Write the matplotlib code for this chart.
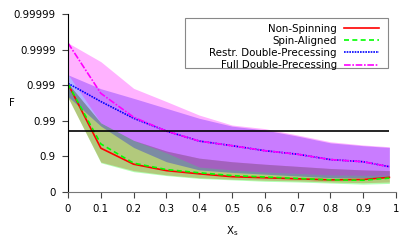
import numpy as np
import matplotlib
matplotlib.use('Agg')
import matplotlib.pyplot as plt
from matplotlib.patches import Rectangle

# spin magnitude
chi_s = [0, 0.1, 0.2, 0.3, 0.4, 0.5, 0.6, 0.7, 0.8, 0.9, 0.98]

# median fitting factors
non_spinning = [0.999067, 0.94112, 0.8340, 0.7488, 0.6910, 0.6285, 0.6019, 0.5734, 0.5429, 0.5533, 0.6110]
spin_aligned = [0.999067, 0.95533, 0.8451, 0.7656, 0.7116, 0.6533, 0.6198, 0.5831, 0.5429, 0.5323, 0.5926]
restr_double = [0.999109, 0.997116, 0.991489, 0.98050, 0.96285, 0.94988, 0.93082, 0.91290, 0.8770, 0.8587, 0.8050]
full_double = [0.999934, 0.998302, 0.992057, 0.98050, 0.96285, 0.94988, 0.93082, 0.91290, 0.8770, 0.8587, 0.8050]

# spread of fitting factors (lower / upper)
non_spinning_lo = [0.997761, 0.8555, 0.7488, 0.6689, 0.6019, 0.5635, 0.5323, 0.5102, 0.4752, 0.4505, 0.4752]
non_spinning_hi = [0.999109, 0.98852, 0.96452, 0.92921, 0.8878, 0.8587, 0.8340, 0.8095, 0.7812, 0.7601, 0.7488]
spin_aligned_lo = [0.997761, 0.8486, 0.7308, 0.6533, 0.5831, 0.5429, 0.4988, 0.4752, 0.4377, 0.3974, 0.4246]
spin_aligned_hi = [0.999109, 0.98852, 0.96452, 0.92921, 0.8878, 0.8587, 0.8340, 0.8095, 0.7812, 0.7601, 0.7488]
restr_double_lo = [0.997911, 0.98587, 0.94377, 0.8587, 0.7601, 0.7182, 0.6838, 0.6452, 0.6019, 0.6019, 0.6198]
restr_double_hi = [0.999487, 0.998741, 0.997656, 0.995533, 0.991489, 0.98587, 0.98180, 0.97308, 0.95831, 0.94988, 0.94377]
full_double_lo = [0.999499, 0.98852, 0.96452, 0.92057, 0.8005, 0.7601, 0.7246, 0.6980, 0.6689, 0.6612, 0.6612]
full_double_hi = [0.999935, 0.999781, 0.998770, 0.997116, 0.993082, 0.98682, 0.98340, 0.97488, 0.96110, 0.95214, 0.94630]

threshold = 0.98
yticks = [0, 0.9, 0.99, 0.999, 0.9999, 0.99999]
ytick_labels = ['0', '0.9', '0.99', '0.999', '0.9999', '0.99999']
xticks = [0, 0.1, 0.2, 0.3, 0.4, 0.5, 0.6, 0.7, 0.8, 0.9, 1]
xtick_labels = ['0', '0.1', '0.2', '0.3', '0.4', '0.5', '0.6', '0.7', '0.8', '0.9', '1']


def nines(f):
    f = np.asarray(f, dtype=float)
    return -np.log10(np.clip(1 - f, 1e-12, None))


def unnines(v):
    return 1 - 10 ** (-np.asarray(v, dtype=float))


plt.rcParams['font.family'] = 'DejaVu Sans'
plt.rcParams['font.size'] = 7.4

fig = plt.figure(figsize=(4.15, 2.49), dpi=100)
ax = fig.add_axes([0.164, 0.229, 0.79, 0.715])
ax.set_yscale('function', functions=(nines, unnines))

a = 0.3
ax.fill_between(chi_s, non_spinning_lo, non_spinning_hi, color='#ff0000', alpha=a, lw=0)
ax.fill_between(chi_s, spin_aligned_lo, spin_aligned_hi, color='#00ff00', alpha=a, lw=0)
ax.fill_between(chi_s, restr_double_lo, restr_double_hi, color='#0000ff', alpha=a, lw=0)
ax.fill_between(chi_s, full_double_lo, full_double_hi, color='#ff00ff', alpha=a, lw=0)

ax.plot(chi_s, non_spinning, color='#ff0000', lw=1.2, label='Non-Spinning')
ax.plot(chi_s, spin_aligned, color='#00ff00', lw=1.2, ls=(0, (3, 2)), label='Spin-Aligned')
ax.plot(chi_s, restr_double, color='#0000ff', lw=1.2, ls=(0, (1, 0.6)), label='Restr. Double-Precessing')
ax.plot(chi_s, full_double, color='#ff00ff', lw=1.2, ls=(0, (4, 1, 1, 1)), label='Full Double-Precessing')

ax.hlines(threshold, 0, chi_s[-1], color='black', lw=1.2)

ax.set_xlim(0, 1)
ax.set_ylim(0, 0.99999)
ax.set_xticks(xticks)
ax.set_xticklabels(xtick_labels)
ax.set_yticks(yticks)
ax.set_yticklabels(ytick_labels)
ax.minorticks_off()
ax.tick_params(direction='out', length=4, width=0.8, color='#444444', pad=5)

for s in ['top', 'right']:
    ax.spines[s].set_visible(False)
ax.spines['left'].set_color('black')
ax.spines['bottom'].set_color('#777777')

ax.set_xlabel(r'$\mathregular{X_s}$', labelpad=7)
ax.set_ylabel('F', rotation=0, va='center')
ax.yaxis.set_label_coords(-0.17, 0.5)

# gnuplot-like key: wide box, samples on the right
box = Rectangle((185 / 415, 1 - 68 / 249), 203 / 415, 50 / 249, transform=fig.transFigure,
                facecolor='white', edgecolor='#888888', lw=0.8, zorder=4)
ax.add_patch(box)
leg = ax.legend(loc='upper right', bbox_to_anchor=(384 / 415, 1 - 18.5 / 249),
                bbox_transform=fig.transFigure, markerfirst=False, frameon=False,
                handlelength=3.4, handletextpad=0.7, labelspacing=0.21, borderpad=0)
leg.set_zorder(5)
for t in leg.get_texts():
    t.set_ha('right')

fig.savefig('out.png', dpi=100)
